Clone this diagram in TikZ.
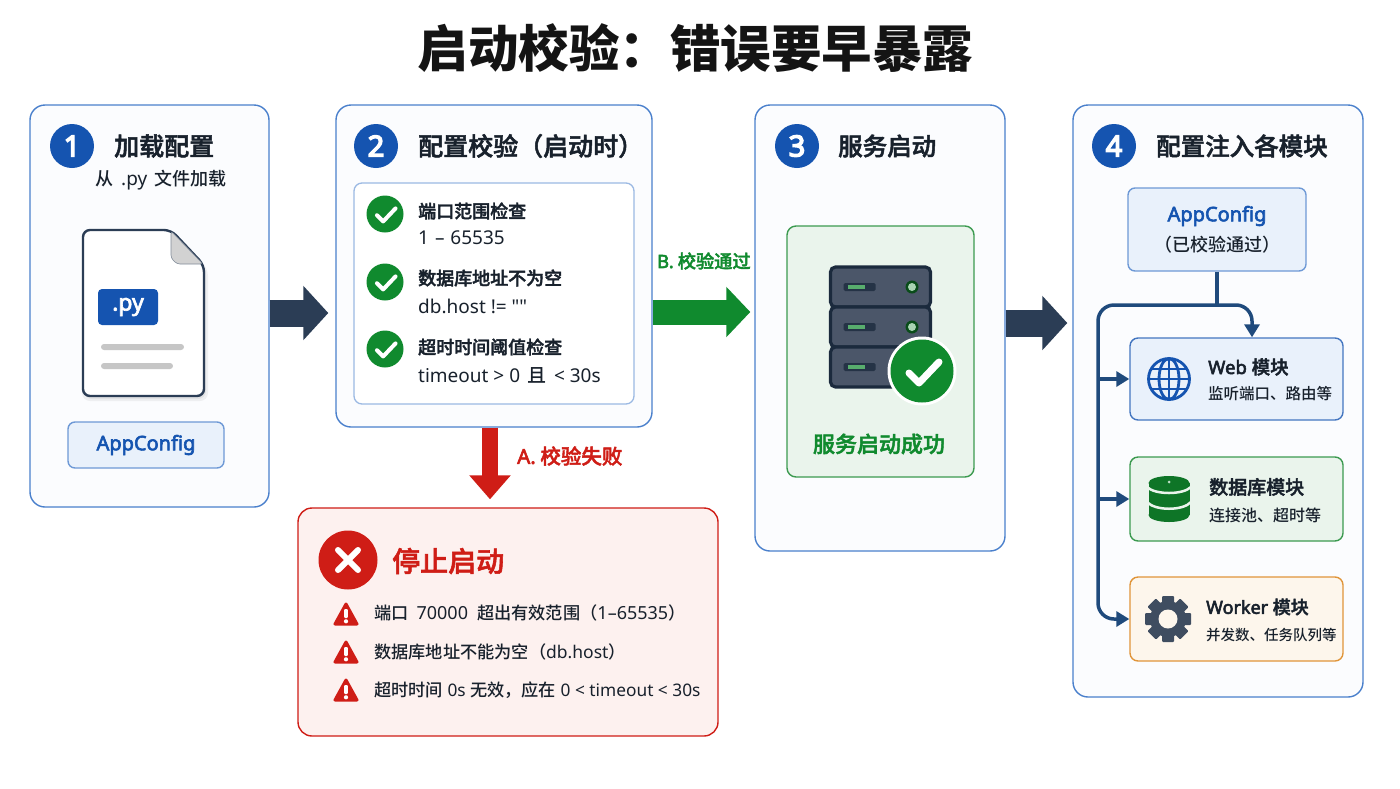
\documentclass[tikz,border=0pt]{standalone}
\usepackage{fontspec}
\setmainfont{Noto Sans CJK SC}
\newfontfamily\latf{Noto Sans}
\newfontfamily\medf{Noto Sans CJK SC Medium}[FakeBold=2]
\newfontfamily\bodyf{Noto Sans CJK SC Medium}
\newfontfamily\latm{Noto Sans}[FakeBold=3]
\newfontfamily\numf{Noto Sans}[FakeBold=5]
\newcommand\LT[1]{{\latf #1}}
\newcommand\LM[1]{{\latm #1}}
\newcommand\LS[2]{{\latf\fontsize{#1}{#1}\selectfont #2}}
\usetikzlibrary{arrows.meta,calc}
\definecolor{ink}{HTML}{18212C}
\definecolor{navy}{HTML}{2B3D55}
\definecolor{blue1}{HTML}{1554B0}
\definecolor{blueb}{HTML}{4A80CC}
\definecolor{bluef}{HTML}{E9F1FB}
\definecolor{green1}{HTML}{108A2E}
\definecolor{greenb}{HTML}{3C9A50}
\definecolor{greenf}{HTML}{EAF4EC}
\definecolor{red1}{HTML}{CF1D16}
\definecolor{redf}{HTML}{FDF1EF}
\definecolor{orangeb}{HTML}{E0953A}
\definecolor{orangef}{HTML}{FDF6EC}
\definecolor{bus}{HTML}{1F4A7C}
\definecolor{slate}{HTML}{3F4D60}
\definecolor{srv}{HTML}{4B5669}
\definecolor{srvb}{HTML}{1B2A3D}
\tikzset{
  x=1pt,y=-1pt,
  box/.style={draw,rounded corners=#1,line width=1.4pt,inner sep=0pt},
  panel/.style={box=15pt,draw=blueb,fill=blue1!1.5!white},
  fs/.style={font=\fontsize{#1}{#1}\selectfont\bodyf,text=ink,inner sep=0pt},
  fb/.style={font=\fontsize{#1}{#1}\selectfont\medf,text=ink,inner sep=0pt},
  numdot/.style={circle,fill=blue1,minimum size=44pt,inner sep=0pt,text=white,font=\fontsize{29}{29}\selectfont\numf},
  bigarrow/.style={line width=27pt,draw=navy,-{Triangle[length=25pt,width=53pt]}},
  busline/.style={draw=bus,line width=3.5pt},
  tip/.style={-{Triangle[length=13pt,width=15pt]}},
  okdot/.style={circle,fill=green1,minimum size=#1,inner sep=0pt},
  tick/.pic={\draw[white,line width=#1,line cap=round,line join=round](-13,2)--(-3,12)--(17,-9);},
  warn/.pic={\filldraw[red1,line width=3pt,line join=round](0,-10)--(11,10)--(-11,10)--cycle;
    \fill[white,rounded corners=1pt](-1.8,-5)rectangle(1.8,4);\fill[white](0,7.3)circle(2.1);},
  srvunit/.pic={\draw[draw=srvb,fill=srv,line width=3.2pt,rounded corners=5pt](-50,-20)rectangle(50,20);
    \fill[srvb!80!srv,rounded corners=1.5pt](-37,-4)rectangle(-5,4);\fill[green1!70!white](-33,-2)rectangle(-16,2);},
  led/.pic={\fill[green1!55!black](0,0)circle(6.5);\fill[greenf!70!green1](0,0)circle(4);}
}
\begin{document}
\begin{tikzpicture}
\useasboundingbox (0,0) rectangle (1400,788);
\fill[white] (0,0) rectangle (1400,788);

\node[font=\fontsize{50.5}{50.5}\selectfont\bfseries,text=black!92,inner sep=0pt] (title) at (695.5,48) {启动校验：错误要早暴露};

% panels
\node[panel,minimum width=239pt,minimum height=402pt] (p1) at (149.5,306) {};
\node[panel,minimum width=316pt,minimum height=322pt] (p2) at (494,266) {};
\node[panel,minimum width=250pt,minimum height=446pt] (p3) at (880,328) {};
\node[panel,minimum width=290pt,minimum height=592pt] (p4) at (1218,401) {};
\node[box=14pt,draw=red1,fill=redf,minimum width=420pt,minimum height=228pt] (stop) at (508,622) {};

% big arrows
\draw[bigarrow] ([yshift=-7pt]p1.east) -- ([xshift=-7pt,yshift=-47pt]p2.west);
\draw[bigarrow,draw=green1,line width=25pt,-{Triangle[length=24pt,width=49pt]}] ([yshift=16pt]p2.east |- p3.west) -- ([xshift=-4pt,yshift=16pt]p3.west);
\draw[bigarrow] ([yshift=5pt]p3.east) -- ([xshift=-5pt,yshift=78pt]p4.west);
\draw[bigarrow,draw=red1,line width=16pt,-{Triangle[length=24pt,width=40pt]}] ([xshift=-4pt]p2.south) -- ([xshift=-18pt,yshift=8pt]stop.north);
\node[fb=18.2,text=green1,anchor=west] (lb) at (657,261) {\LM{B.} 校验通过};
\node[fb=20.5,text=red1,anchor=west] (la) at (517,456) {\LM{A.} 校验失败};

% panel headings
\node[numdot] (n1) at (72,146) {1};
\node[numdot] (n2) at (376,146) {2};
\node[numdot] (n3) at (797,146) {3};
\node[numdot] (n4) at (1114,146) {4};
\node[fb=25,anchor=west] (h1) at (114,146) {加载配置};
\node[fb=25,anchor=west] (h2) at (418,146) {配置校验（启动时）};
\node[fb=24.5,anchor=west] (h3) at (838,146) {服务启动};
\node[fb=24.5,anchor=west] (h4) at (1156,146) {配置注入各模块};
\node[fs=18,anchor=west] (sub1) at (95,180) {从\hspace{8pt}\LS{19}{.py}\hspace{7pt}文件加载};

% document icon
\fill[black,opacity=.05,rounded corners=8pt] (82,234) -- (172,234) -- (208,268) -- (208,401) -- (82,401) -- cycle;
\fill[black,opacity=.05,rounded corners=8pt] (84,233) -- (172,233) -- (206,267) -- (206,399) -- (84,399) -- cycle;
\draw[fill=white,draw=navy,line width=2.4pt,rounded corners=7pt] (83,230) -- (171,230) -- (204,265) -- (204,396) -- (83,396) -- cycle;
\draw[fill=gray!35,draw=navy!60,line width=.6pt,rounded corners=3pt] (171,231) -- (171,258) -- (177,264) -- (203,264) -- cycle;
\node[fill=blue1,rounded corners=4pt,minimum width=60pt,minimum height=36pt,inner sep=0pt,text=white,font=\fontsize{23}{23}\selectfont\latm] (py) at (128,307) {.py};
\fill[gray!45,rounded corners=3pt] (101,344) rectangle (184,350);
\fill[gray!45,rounded corners=3pt] (101,363) rectangle (173,369);
\node[box=7pt,draw=blueb!80,fill=bluef,minimum width=156pt,minimum height=46pt,text=blue1,font=\fontsize{20}{20}\selectfont\latm] (ac1) at (146,445) {AppConfig};

% check list
\node[box=8pt,draw=blueb!55,line width=1.3pt,fill=white,minimum width=280pt,minimum height=221pt] (inner) at (494,293.5) {};
\foreach \y/\n in {214/c1,282/c2,349/c3}{
  \node[okdot=37pt] (\n) at (385,\y) {};
  \pic[scale=.62] at (385,\y) {tick=4pt};
}
\node[fb=18,anchor=west] (t1) at (418,211) {端口范围检查};
\node[text=ink,inner sep=0pt,anchor=west,font=\fontsize{19}{19}\selectfont\latf] (t2) at (418,238) {1\hspace{1pt} – \hspace{1pt}65535};
\node[fb=18,anchor=west] (t3) at (418,278) {数据库地址不为空};
\node[text=ink,inner sep=0pt,anchor=west,font=\fontsize{19}{19}\selectfont\latf] (t4) at (418,306) {db.host != ""};
\node[fb=18,anchor=west] (t5) at (418,347) {超时时间阈值检查};
\node[fs=19,anchor=west] (t6) at (418,375) {\LT{timeout > 0 }\hspace{2pt}且\hspace{3pt}\LT{ < 30s}};

% service panel
\node[box=9pt,draw=greenb,fill=greenf,minimum width=187pt,minimum height=251pt] (okbox) at (880.5,351.5) {};
\pic at (880.5,287) {srvunit};
\pic at (880.5,327) {srvunit};
\pic at (880.5,367) {srvunit};
\pic at (912,287) {led};
\pic at (912,327) {led};
\node[circle,fill=white,minimum size=69pt,inner sep=0pt] (badgeo) at (922,371) {};
\node[okdot=63pt] (badge) at (922,371) {};
\pic at (922,371) {tick=7pt};
\node[fb=22,text=green1] (okt) at (879,444) {服务启动成功};

% panel 4
\node[box=7pt,draw=blueb!80,fill=bluef,minimum width=178pt,minimum height=83pt] (cfg) at (1217,229.5) {};
\node[text=blue1,inner sep=0pt,font=\fontsize{20}{20}\selectfont\latm] (cfgt) at (1217,216) {AppConfig};
\node[fs=18] (cfgs) at (1217,245) {（已校验通过）};

\node[box=8pt,draw=blue1!80,fill=bluef,minimum width=213pt,minimum height=82pt] (web) at (1236.5,379) {};
\node[box=8pt,draw=greenb,fill=greenf,minimum width=213pt,minimum height=84pt] (db) at (1236.5,499) {};
\node[box=8pt,draw=orangeb,fill=orangef,minimum width=213pt,minimum height=84pt] (worker) at (1236.5,619) {};

\coordinate (busT) at (cfg.south |- 0,305);
\coordinate (tl) at (1098,305);
\coordinate (bl) at (1098,619);
\draw[busline] (cfg.south) -- (busT);
\draw[busline,tip,rounded corners=16pt] (busT) -- ([xshift=15.5pt]web.north |- busT) -- ([xshift=15.5pt]web.north);
\draw[busline,tip,rounded corners=16pt] (busT) -- (tl) -- (bl) -- (worker.west);
\draw[busline,tip] (tl |- web.west) -- (web.west);
\draw[busline,tip] (tl |- db.west) -- (db.west);

% globe
\begin{scope}[draw=blue1,line width=2.8pt]
\draw (1169,379) circle (20.5);
\draw (1169,379) ellipse (10 and 20.5);
\draw (1169,358.5) -- (1169,399.5);
\draw (1148.5,379) -- (1189.5,379);
\draw (1152,369) -- (1186,369);
\draw (1152,389) -- (1186,389);
\end{scope}
\node[fb=18.5,anchor=west] (wt) at (1208,367) {\LM{Web }模块};
\node[fs=15.5,anchor=west] (ws) at (1208,394) {监听端口、路由等};

% database
\fill[green1!85!black] (1169,483) ellipse (20.5 and 7);
\fill[green1!85!black] (1148.5,483) rectangle (1189.5,515);
\fill[green1!85!black] (1169,515) ellipse (20.5 and 7);
\draw[greenf,line width=2.5pt] (1147,487) .. controls (1155,495) and (1183,495) .. (1191,487);
\draw[greenf,line width=2.5pt] (1147,502) .. controls (1155,511) and (1183,511) .. (1191,502);
\fill[greenf!80!green1] (1169,482) circle (1.5);
\node[fb=19,anchor=west] (dt) at (1209,487) {数据库模块};
\node[fs=16,anchor=west] (ds) at (1209,515) {连接池、超时等};

% gear
\fill[slate] (1168,619) circle (18);
\foreach \a in {0,45,...,315}{
  \fill[slate,rotate around={\a:(1168,619)},rounded corners=1pt] (1162,596) rectangle (1174,606);
}
\fill[orangef] (1168,619) circle (9.5);
\node[fb=18,anchor=west] (kt) at (1206,607) {\LM{Worker }模块};
\node[fs=14.5,anchor=west] (ks) at (1206,635) {并发数、任务队列等};

% stop box content
\node[circle,fill=red1,minimum size=59pt,inner sep=0pt] (xdot) at (348,560) {};
\draw[white,line width=6pt,line cap=round] (338,550) -- (358,570);
\draw[white,line width=6pt,line cap=round] (358,550) -- (338,570);
\node[fb=28,text=red1,anchor=west] (st) at (392,561) {停止启动};
\pic at (346,614) {warn};
\pic at (346,652) {warn};
\pic at (346,690) {warn};
\node[fs=17.2,anchor=west] (e1) at (374,613) {端口\hspace{8pt}\LS{18}{70000}\hspace{9pt}超出有效范围（\LS{18}{1–65535}）};
\node[fs=17.2,anchor=west] (e2) at (374,652) {数据库地址不能为空（\LS{17.5}{db.host}）};
\node[fs=17.2,anchor=west] (e3) at (374,690) {超时时间\LS{17.3}{ 0s }无效，应在\LS{17.3}{ 0 < timeout < 30s}};
\end{tikzpicture}
\end{document}
